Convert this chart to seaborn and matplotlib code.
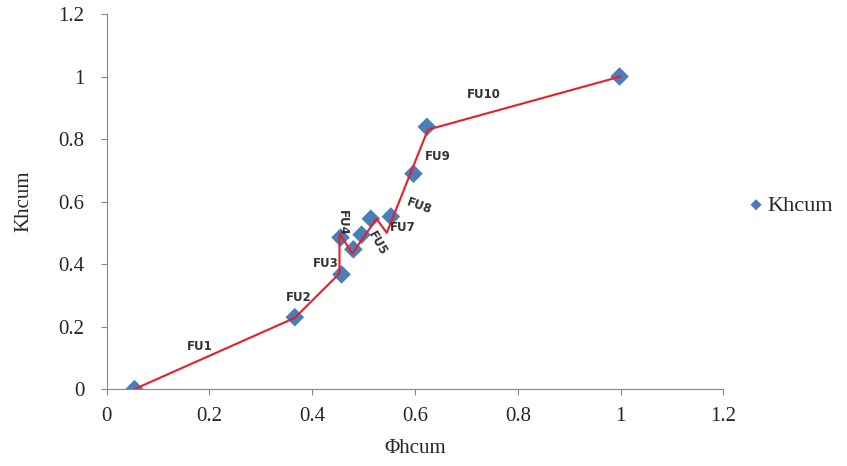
import matplotlib
matplotlib.use('Agg')
import matplotlib.pyplot as plt
import seaborn as sns
import pandas as pd

# Khcum points (blue diamonds)
phi_hcum = [0.054, 0.366, 0.457, 0.455, 0.480, 0.496, 0.514, 0.553, 0.597, 0.623, 0.998]
k_hcum = [0.0, 0.230, 0.367, 0.485, 0.447, 0.494, 0.545, 0.552, 0.689, 0.839, 1.0]

# hand drawn red path
path_x = [0.054, 0.366, 0.453, 0.453, 0.478, 0.525, 0.545, 0.625, 1.0]
path_y = [0.0, 0.228, 0.370, 0.497, 0.434, 0.545, 0.500, 0.830, 1.0]

# FU labels: text, x, y, rotation
fu_text = ['FU1', 'FU2', 'FU3', 'FU4', 'FU5', 'FU7', 'FU8', 'FU9', 'FU10']
fu_x = [0.181, 0.374, 0.426, 0.459, 0.527, 0.576, 0.609, 0.644, 0.733]
fu_y = [0.137, 0.293, 0.402, 0.533, 0.466, 0.517, 0.584, 0.743, 0.944]
fu_rot = [0, 0, 0, -90, -60, 0, -20, 0, 0]

sns.set_style('white')
plt.rcParams['font.family'] = ['Liberation Serif', 'DejaVu Serif']

df = pd.DataFrame({'phi': phi_hcum, 'k': k_hcum})

fig = plt.figure(figsize=(8.47, 4.66), dpi=100)
ax = fig.add_axes([0.126, 0.165, 0.728, 0.805])

ax.plot(path_x, path_y, color='#ee1c25', lw=1.5, zorder=3)
sns.scatterplot(data=df, x='phi', y='k', marker='D', s=90, color='#4a7ebb',
                edgecolor='none', label='Khcum', ax=ax, zorder=2)

for t, x, y, r in zip(fu_text, fu_x, fu_y, fu_rot):
    ax.text(x, y, t, rotation=r, ha='center', va='center', fontsize=8.5,
            fontweight='bold', color='#333333', family=['DejaVu Sans'])

ax.set_xlim(0, 1.2)
ax.set_ylim(0, 1.2)
ax.set_xticks([0, 0.2, 0.4, 0.6, 0.8, 1.0, 1.2])
ax.set_yticks([0, 0.2, 0.4, 0.6, 0.8, 1.0, 1.2])
ax.set_xticklabels(['0', '0.2', '0.4', '0.6', '0.8', '1', '1.2'])
ax.set_yticklabels(['0', '0.2', '0.4', '0.6', '0.8', '1', '1.2'])
ax.tick_params(axis='both', labelsize=15, direction='out', length=4,
               color='#888888', bottom=True, left=True)
ax.tick_params(axis='x', pad=9)
ax.tick_params(axis='y', pad=12)
ax.set_xlabel('Φhcum', fontsize=15, labelpad=9)
ax.set_ylabel('Khcum', fontsize=15, labelpad=18)

for s in ['top', 'right']:
    ax.spines[s].set_visible(False)
for s in ['left', 'bottom']:
    ax.spines[s].set_color('#888888')
    ax.spines[s].set_linewidth(0.8)

leg = ax.legend(loc='center left', bbox_to_anchor=(1.035, 0.49), frameon=False,
                fontsize=16, handletextpad=0.0, handlelength=1.0,
                borderaxespad=0, borderpad=0, markerscale=0.6)

fig.savefig('out.png', dpi=100)
